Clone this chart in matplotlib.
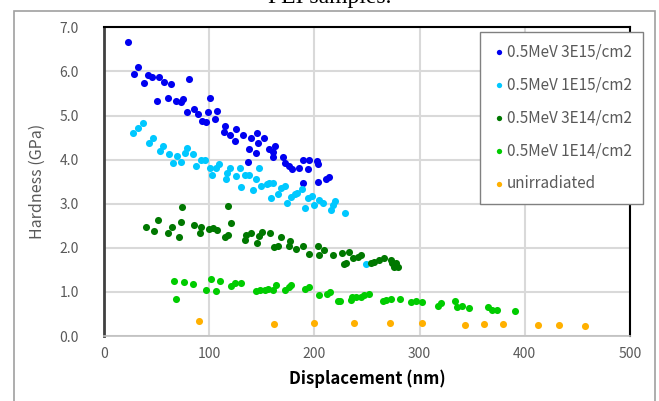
import matplotlib.pyplot as plt
from matplotlib.patches import Rectangle

# 0.5MeV 3E15/cm2
x_3e15 = [23, 32.5, 28.4, 41.4, 45.2, 37.9, 52.4, 57.2, 63.5, 80.6, 50.2, 61, 68.8, 73, 75.5,
          101, 79.3, 85.6, 89.7, 93.5, 97.3, 98.9, 107.7, 105.5, 115.3, 113.7, 120, 125.7,
          124.2, 132, 140, 145.7, 146.3, 151.7, 137.4, 144.7, 136.8, 157.3, 161.1, 163,
          160.5, 170, 172.5, 175.6, 178.8, 185.8, 189.6, 195.3, 194.3, 202.2, 203.2, 189,
          203.8, 211.1, 214.2]
y_3e15 = [6.66, 6.09, 5.93, 5.92, 5.87, 5.73, 5.87, 5.75, 5.71, 5.83, 5.34, 5.39, 5.34, 5.30, 5.37,
          5.40, 5.08, 5.15, 5.03, 4.88, 4.86, 5.07, 5.10, 4.91, 4.76, 4.63, 4.56, 4.69,
          4.43, 4.56, 4.50, 4.61, 4.38, 4.50, 4.25, 4.14, 3.94, 4.23, 4.17, 4.31,
          4.07, 4.05, 3.93, 3.86, 3.79, 3.80, 3.99, 3.99, 3.79, 3.97, 3.90, 3.46,
          3.50, 3.56, 3.61]

# 0.5MeV 1E15/cm2
x_1e15 = [27.8, 32.5, 36.6, 46.7, 42.9, 56.2, 53.1, 61.6, 69.8, 79.3, 76.8, 84.6, 65.7, 73,
          87.8, 91.9, 95.7, 100.5, 102.9, 106.2, 109, 115.6, 117.2, 120, 125.1, 129.5, 130.5,
          133.6, 137.7, 141.5, 144.1, 147.2, 148.8, 155.2, 156.7, 161.1, 158.3, 165.2, 167.8,
          172.5, 174.1, 177.9, 182, 183.5, 188.2, 191.5, 193.7, 197.7, 199.3, 204.7, 207.9,
          215.8, 217.3, 219.9, 229, 249]
y_1e15 = [4.61, 4.72, 4.84, 4.50, 4.37, 4.31, 4.20, 4.13, 4.09, 4.26, 4.16, 4.13, 3.92, 3.94,
          3.85, 3.98, 3.98, 3.80, 3.64, 3.82, 3.90, 3.55, 3.69, 3.82, 3.63, 3.80, 3.37,
          3.66, 3.66, 3.31, 3.55, 3.82, 3.40, 3.45, 3.48, 3.46, 3.12, 3.22, 3.35,
          3.40, 3.01, 3.16, 3.21, 3.25, 3.33, 2.90, 3.14, 3.17, 2.97, 3.08, 3.02,
          2.86, 2.97, 3.05, 2.80, 1.63]

# 0.5MeV 3E14/cm2
x_3e14 = [74.6, 117.8, 39.5, 47.4, 51.5, 61, 65, 71.4, 73.6, 85.3, 91, 92.5, 99.5, 103.6, 107.4,
          114.7, 117.8, 120.4, 134.3, 135.2, 140, 145.3, 147.2, 150.4, 158, 161.4, 165.2,
          167.8, 175.6, 177, 182.6, 189, 195.3, 203, 204.2, 209, 217.3, 226.2, 228.4, 230,
          233.2, 236.3, 241, 244.2, 253.7, 256.9, 261.6, 266.4, 272.7, 274.2, 275.8, 277.4, 279]
y_3e14 = [2.92, 2.95, 2.48, 2.39, 2.63, 2.33, 2.48, 2.25, 2.58, 2.52, 2.34, 2.47, 2.42, 2.44, 2.40,
          2.25, 2.29, 2.57, 2.18, 2.29, 2.33, 2.12, 2.27, 2.36, 2.33, 2.01, 2.05,
          2.25, 2.04, 2.15, 1.97, 2.03, 1.87, 2.03, 1.84, 1.95, 1.84, 1.89, 1.63, 1.65,
          1.90, 1.76, 1.80, 1.83, 1.65, 1.68, 1.72, 1.78, 1.72, 1.65, 1.57, 1.65, 1.56]

# 0.5MeV 1E14/cm2
x_1e14 = [66.4, 68.2, 76.1, 84.6, 97.3, 102.1, 106.8, 110.6, 121, 124.2, 130.5, 144.7, 148.5,
          152.6, 155.7, 160.5, 163.7, 172.2, 175.6, 177.9, 191.5, 194.6, 204.7, 211.7, 214.8,
          222.1, 224.6, 234.8, 235.7, 239.5, 244.2, 247.4, 252.1, 264.8, 268.5, 272.7, 281.5,
          291.6, 296.4, 302, 317.8, 320.1, 333.6, 335.2, 340.6, 346.9, 365.2, 369, 373.7, 390.5]
y_1e14 = [1.25, 0.85, 1.22, 1.18, 1.04, 1.29, 1.02, 1.25, 1.14, 1.21, 1.21, 1.02, 1.04,
          1.04, 1.06, 1.04, 1.16, 1.04, 1.10, 1.16, 1.06, 1.10, 0.93, 0.95, 1.00,
          0.80, 0.80, 0.82, 0.88, 0.89, 0.89, 0.93, 0.95, 0.80, 0.82, 0.83, 0.84,
          0.78, 0.80, 0.76, 0.68, 0.74, 0.79, 0.66, 0.68, 0.63, 0.66, 0.60, 0.59, 0.57]

# unirradiated
x_unirr = [90, 162, 200, 238, 271.7, 302, 342.8, 361, 379, 413, 432.2, 457.5]
y_unirr = [0.33, 0.27, 0.30, 0.29, 0.29, 0.29, 0.25, 0.27, 0.27, 0.25, 0.25, 0.23]

series = [
    (x_3e15, y_3e15, '#0000F0', '0.5MeV 3E15/cm2'),
    (x_1e15, y_1e15, '#00C8FF', '0.5MeV 1E15/cm2'),
    (x_3e14, y_3e14, '#007800', '0.5MeV 3E14/cm2'),
    (x_1e14, y_1e14, '#00CC00', '0.5MeV 1E14/cm2'),
    (x_unirr, y_unirr, '#FFB000', 'unirradiated'),
]

plt.rcParams['font.family'] = ['Noto Sans CJK JP', 'DejaVu Sans']

fig = plt.figure(figsize=(6.59, 4.01), dpi=100)
ax = fig.add_axes([104 / 659, 1 - 336 / 401, (630 - 104) / 659, (336 - 27.3) / 401])

for xs, ys, c, lab in series:
    ax.scatter(xs, ys, s=26, color=c, label=lab, linewidths=0, zorder=3)

ax.set_xlim(0, 500)
ax.set_ylim(0, 7)
ax.set_xticks([0, 100, 200, 300, 400, 500])
ax.set_yticks([0, 1, 2, 3, 4, 5, 6, 7])
ax.set_yticklabels(['%.1f' % v for v in range(8)])
ax.grid(True, color='#D9D9D9', linewidth=1.5, zorder=0)
ax.tick_params(length=0, labelsize=10, labelcolor='#595959', pad=8)
ax.tick_params(axis='y', pad=18)
for side in ['top', 'right']:
    ax.spines[side].set_color('black')
    ax.spines[side].set_linewidth(1.5)
ax.spines['left'].set_color('#404040')
ax.spines['left'].set_linewidth(2)
ax.spines['bottom'].set_color('#BFBFBF')
ax.spines['bottom'].set_linewidth(1.2)

ax.set_xlabel('Displacement (nm)', fontsize=12, fontweight='bold', color='black', labelpad=6)
ax.set_ylabel('Hardness (GPa)', fontsize=11.5, color='#595959', labelpad=10)

# legend box sticks out past the right spine
fig.legend(loc='upper left', bbox_to_anchor=(472 / 659, 1 - 24 / 401), fontsize=11,
           labelcolor='#595959', frameon=True, fancybox=False, edgecolor='#808080',
           handletextpad=0.05, labelspacing=1.05, markerscale=0.75, borderpad=0.75,
           handlelength=1.0, framealpha=1)

# outer chart frame and clipped title
fig.patches.append(Rectangle((14 / 659, -0.05), (655 - 14) / 659, 1.05 - 11 / 401,
                             transform=fig.transFigure, fill=False, edgecolor='#A0A0A0',
                             linewidth=1.2))
fig.text(0.5, 1.005, 'PEI samples.', ha='center', va='center', fontsize=17,
         family='Liberation Serif')

plt.savefig('out.png', dpi=100)
